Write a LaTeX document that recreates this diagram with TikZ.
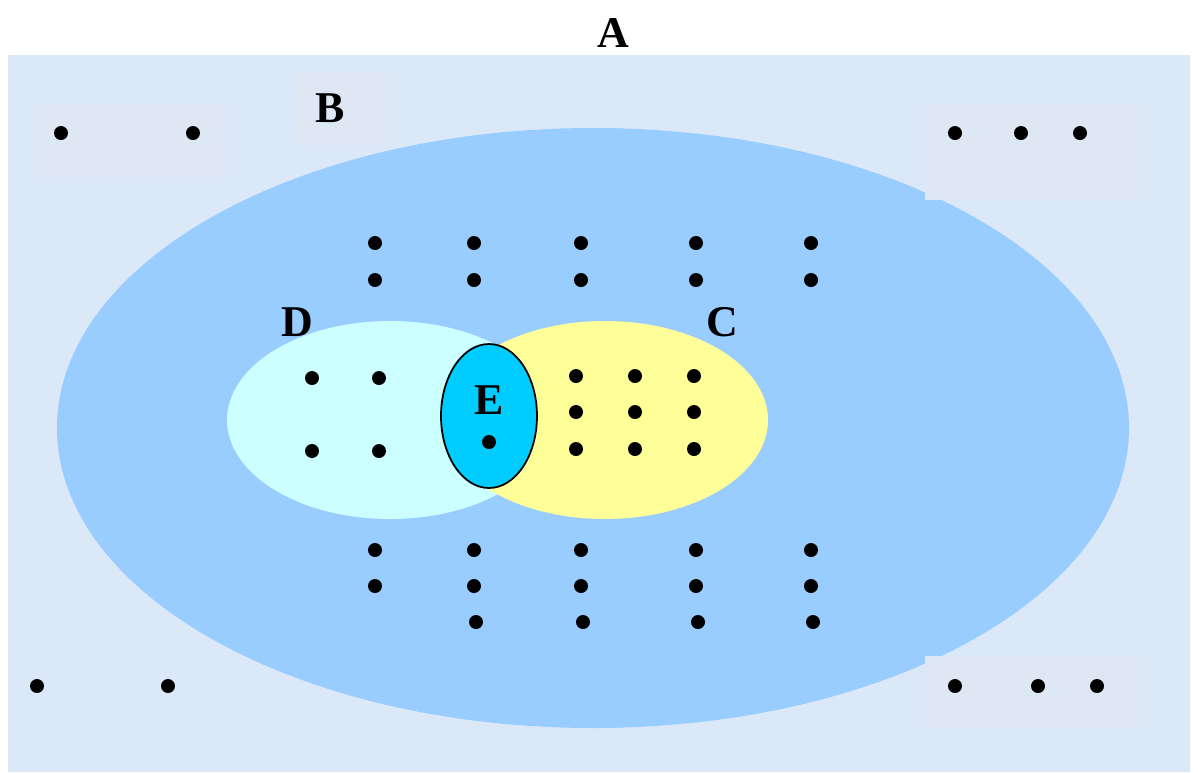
\documentclass[tikz,border=0pt]{standalone}
\usepackage{fontspec}
\usetikzlibrary{shapes.geometric}
\setmainfont{Liberation Serif}
\definecolor{bgtex}{HTML}{DBE8F7}
\definecolor{boxc}{HTML}{DEE8F4}
\definecolor{bigc}{HTML}{99CCFF}
\definecolor{dcol}{HTML}{CCFFFF}
\definecolor{ccol}{HTML}{FFFF99}
\definecolor{ecol}{HTML}{00CCFF}
\tikzset{
  pt/.style={circle,fill=black,inner sep=0pt,minimum size=0.28cm},
  lbl/.style={font=\fontsize{25}{30}\selectfont\bfseries,inner sep=0pt},
  tbox/.style={fill=boxc,draw=none}
}
\begin{document}
\begin{tikzpicture}[x=0.02cm,y=-0.02cm]
\useasboundingbox (0,0) rectangle (1198,772);
\fill[white] (0,0) rectangle (1198,772);
\fill[bgtex] (8,55) rectangle (1190,772);
% big ellipse B
\fill[bigc] (593,428) ellipse [x radius=536, y radius=300];
% D and C
\fill[dcol] (390,420) ellipse [x radius=163, y radius=99];
\fill[ccol] (605,420) ellipse [x radius=163, y radius=99];
\node[ellipse,draw=black,line width=1pt,fill=ecol,minimum width=1.92cm,minimum height=2.88cm,inner sep=0pt] (E) at (489,416) {};
% text boxes
\fill[tbox] (31,104) rectangle (225,177);
\fill[tbox] (296,72) rectangle (393,145);
\fill[tbox] (925,104) rectangle (1141,200);
\fill[tbox] (925,656) rectangle (1150,728);
% labels
\node[lbl] (lA) at (613,33) {A};
\node[lbl] (lB) at (330,108) {B};
\node[lbl] (lC) at (722,322) {C};
\node[lbl] (lD) at (297,322) {D};
\node[lbl] (lE) at (489,400) {E};
% outer dots
\foreach \x/\y [count=\i] in {61/133,193/133,955/133,1021/133,1080/133,37/686,168/686,955/686,1038/686,1097/686}
  \node[pt] (o\i) at (\x,\y) {};
% grid in B
\foreach \x [count=\i] in {375,474,581,696,811}{
  \node[pt] (t1\i) at (\x,243) {};
  \node[pt] (t2\i) at (\x,280) {};
  \node[pt] (b1\i) at (\x,550) {};
  \node[pt] (b2\i) at (\x,586) {};
}
\foreach \x [count=\i] in {476,583,698,813}
  \node[pt] (b3\i) at (\x,622) {};
% D dots
\foreach \x/\y [count=\i] in {312/378,379/378,312/451,379/451}
  \node[pt] (d\i) at (\x,\y) {};
% C dots
\foreach \y [count=\j] in {376,412,449}
  \foreach \x [count=\i] in {576,635,694}
    \node[pt] (c\j\i) at (\x,\y) {};
% E dot
\node[pt] (e1) at (489,442) {};
\end{tikzpicture}
\end{document}
